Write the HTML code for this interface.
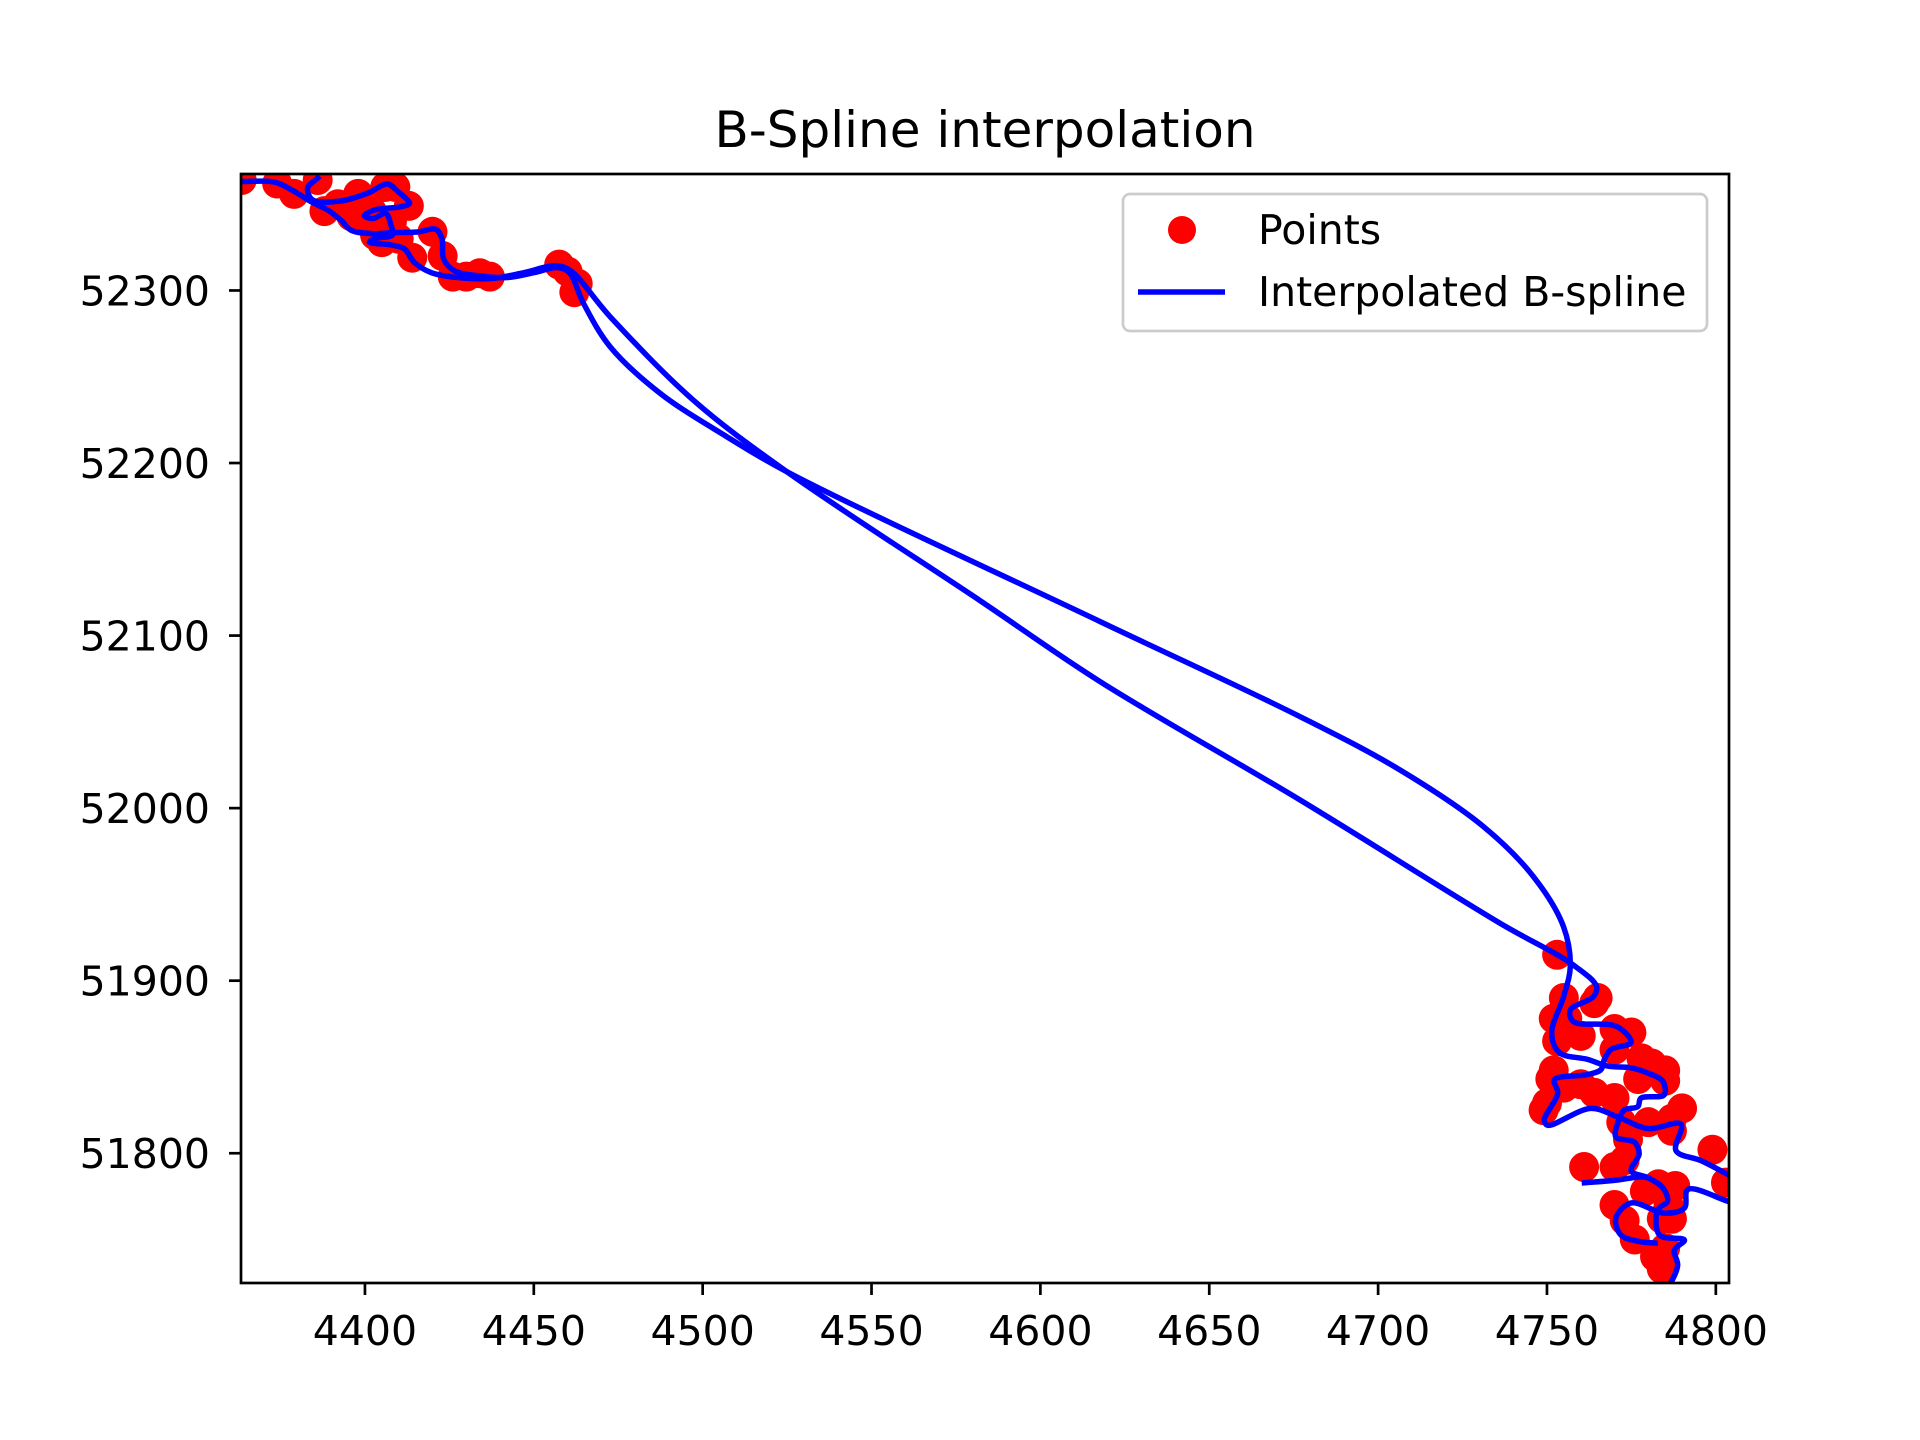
<!DOCTYPE html>
<html><head><meta charset="utf-8"><style>
html,body{margin:0;padding:0;background:#fff;}
svg{display:block;font-family:"DejaVu Sans","Liberation Sans",sans-serif;}
</style></head><body>
<svg id="chart" width="1920" height="1440" viewBox="0 0 1920 1440" xmlns="http://www.w3.org/2000/svg">
<rect width="1920" height="1440" fill="#fff"/>
<defs><clipPath id="clip"><rect x="241" y="174" width="1488" height="1109"/></clipPath></defs>
<text x="985" y="147" font-size="50" text-anchor="middle">B-Spline interpolation</text>
<g id="plot" clip-path="url(#clip)"></g>
<g id="axes"></g>
<g>
<rect x="1123" y="194" width="584" height="137" rx="7" fill="#fff" fill-opacity="0.8" stroke="#ccc" stroke-width="2.7"/>
<circle cx="1182" cy="230" r="14" fill="#ff0000"/>
<text x="1258" y="244" font-size="41">Points</text>
<line x1="1138" y1="292" x2="1225" y2="292" stroke="#0000ff" stroke-width="5.5"/>
<text x="1258" y="306" font-size="41">Interpolated B-spline</text>
</g>
</svg>
<script>
const xTicks = [4400,4450,4500,4550,4600,4650,4700,4750,4800];
const yTicks = [51800,51900,52000,52100,52200,52300];
const curve1X = [4350,4363.3,4373.2,4379.1,4384.0,4389.0,4392.9,4395.9,4402.8,4407.7,4415.6,4421.0,4422.8,4423.3,4426.5,4434.4,4442.3,4450.2,4457.1,4460.5,4464.7,4472.6,4487.4,4507.1,4524.9,4617.7,4676.9,4706.5,4731.2,4746.0,4754.9,4756.9,4754.9,4751.4,4753.7,4762.0,4768.0,4774.9,4779.8,4784.3,4784.7,4777.8,4776.9,4772.9,4770.9,4770.4,4775.9,4777.3,4774.9,4779.8,4784.3,4785.7,4782.8,4783.3,4790.7,4787.7,4788.7,4785.7,4783];
const curve1Y = [52364,52363.2,52362.8,52357.4,52351.5,52346.6,52340.7,52334.9,52332.9,52333.5,52333.9,52335.4,52330.0,52318.2,52311.4,52308.4,52307.5,52310.4,52313.3,52310.4,52292.6,52267.4,52240.4,52215.3,52195.0,52108.1,52053.0,52022.1,51989.3,51960.3,51931.3,51908.1,51890.7,51869.5,51858.3,51854.4,51850.5,51849.5,51846.5,51841.7,51833.8,51831.9,51827.0,51825.0,51817.2,51809.4,51806.4,51799.6,51789.8,51785.9,51780.0,51772.2,51767.3,51752.6,51749.7,51743.8,51735.0,51721.3,51712];
const curve2X = [4386.0,4383.0,4384.5,4392.9,4400.8,4406.7,4409.7,4413.2,4410.7,4402.8,4399.8,4402.3,4406.2,4407.7,4408.2,4402.8,4401.3,4407.7,4411.7,4414.6,4419.6,4427.5,4437.3,4447.2,4456.1,4460.5,4472.6,4497.2,4524.9,4582.1,4617.7,4676.9,4736.1,4757.8,4764.7,4763.7,4756.9,4757.8,4770.7,4774.9,4769.0,4767.0,4766.0,4762.0,4752.2,4753.2,4749.2,4750.2,4763.0,4770.9,4779.8,4789.7,4788.2,4795.6,4803.5,4809.4,4809.4,4803.5,4791.7,4790.7,4784.7,4774.9,4770.4,4771.9,4777.8,4782];
const curve2Y = [52365.2,52359.3,52352.5,52351.9,52356.4,52361.7,52357.4,52350.5,52348.6,52346.6,52343.3,52341.7,52344.6,52337.8,52332.3,52330.0,52328.0,52326.4,52324.1,52316.3,52310.4,52307.5,52306.9,52310.4,52314.3,52312.0,52284.8,52236.5,52195.0,52120.3,52073.3,52004.7,51933.3,51909.1,51896.5,51890.7,51883.0,51876.3,51873.4,51864.2,51860.2,51854.4,51848.5,51845.6,51842.6,51834.8,51819.2,51816.2,51826.0,51821.1,51814.3,51816.8,51801.5,51795.7,51787.8,51782.0,51768.3,51772.2,51779.0,51768.3,51765.3,51771.2,51762.4,51752.6,51748.7,51748];
const curve3X = [4761.1,4769.9,4777.8,4779.8];
const curve3Y = [51782.9,51784.3,51786.3,51785.9];
const pointsX = [4363.5,4374,4379,4386,4388,4392,4396,4400,4403,4406,4409,4413,4408,4402,4398,4405,4410,4414,4420,4423,4426,4430,4434,4437,4457.5,4460,4463,4462,4753,4755,4756,4752,4753,4764,4765,4760,4770,4775,4770,4778,4781,4785,4785,4777,4752,4751,4750,4749,4755,4760,4764,4770,4772,4774,4780,4787,4790,4787,4799,4803,4761,4770,4773,4779,4783,4787,4770,4773,4784,4788,4785,4782,4784,4776,4786];
const pointsY = [52364,52362,52356,52364,52346,52350,52343,52340,52332,52360,52360,52349,52340,52346,52356,52328,52330,52319,52334,52320,52308,52308,52310,52308,52315,52311,52304,52299,51915,51890,51878,51878,51865,51887,51890,51868,51872,51870,51860,51855,51852,51848,51842,51843,51848,51843,51829,51825,51838,51840,51835,51832,51818,51808,51818,51813,51826,51820,51802,51783,51792,51792,51796,51778,51782,51762,51770,51761,51762,51781,51745,51740,51733,51750,51770];

const L=241,R=1729,T=174,B=1283, XMIN=4363.3, XMAX=4803.9, YMIN=51724.8, YMAX=52367.5;
function sx(v){return L+(v-XMIN)/(XMAX-XMIN)*(R-L);}
function sy(v){return B-(v-YMIN)/(YMAX-YMIN)*(B-T);}
const NS='http://www.w3.org/2000/svg';
const plot=document.getElementById('plot'), axes=document.getElementById('axes');
function el(tag,attrs,parent){const e=document.createElementNS(NS,tag);for(const k in attrs)e.setAttribute(k,attrs[k]);parent.appendChild(e);return e;}

for(let i=0;i<pointsX.length;i++){
  const c=el('circle',{cx:sx(pointsX[i]),cy:sy(pointsY[i]),r:15,fill:'#ff0000'},plot);
  
  
}
function dist(a,b){return Math.hypot(a[0]-b[0],a[1]-b[1]);}
function smooth(xs,ys){
  const p=xs.map((x,i)=>[sx(x),sy(ys[i])]);
  let d='M'+p[0][0]+','+p[0][1];
  for(let i=0;i<p.length-1;i++){
    const p1=p[i],p2=p[i+1];
    const p0=i>0?p[i-1]:null, p3=i+2<p.length?p[i+2]:null;
    const d2=Math.sqrt(dist(p1,p2))||1e-6;
    let b1,b2;
    if(p0){
      const d1=Math.sqrt(dist(p0,p1))||1e-6;
      const den=3*d1*(d1+d2);
      b1=[0,1].map(k=>(d1*d1*p2[k]-d2*d2*p0[k]+(2*d1*d1+3*d1*d2+d2*d2)*p1[k])/den);
    } else b1=[p1[0]+(p2[0]-p1[0])/3,p1[1]+(p2[1]-p1[1])/3];
    if(p3){
      const d3=Math.sqrt(dist(p2,p3))||1e-6;
      const den=3*d3*(d3+d2);
      b2=[0,1].map(k=>(d3*d3*p1[k]-d2*d2*p3[k]+(2*d3*d3+3*d3*d2+d2*d2)*p2[k])/den);
    } else b2=[p2[0]-(p2[0]-p1[0])/3,p2[1]-(p2[1]-p1[1])/3];
    d+=' C'+b1[0]+','+b1[1]+' '+b2[0]+','+b2[1]+' '+p2[0]+','+p2[1];
  }
  return d;
}
[[curve1X,curve1Y],[curve2X,curve2Y],[curve3X,curve3Y]].forEach(([xs,ys])=>{
  const pth=el('path',{d:smooth(xs,ys),fill:'none',stroke:'#0000ff','stroke-width':5.5,'stroke-linejoin':'round','stroke-linecap':'square'},plot);
  
  
});

const frame=el('rect',{x:L,y:T,width:R-L,height:B-T,fill:'none',stroke:'#000','stroke-width':2.7},axes);


xTicks.forEach(v=>{
  const x=sx(v);
  const t=el('line',{x1:x,y1:B,x2:x,y2:B+12,stroke:'#000','stroke-width':2.7},axes);
  
  
  const lb=el('text',{x:x,y:B+62,'font-size':41,'text-anchor':'middle'},axes);
  lb.textContent=v;
  
  
});
yTicks.forEach(v=>{
  const y=sy(v);
  const t=el('line',{x1:L,y1:y,x2:L-12,y2:y,stroke:'#000','stroke-width':2.7},axes);
  
  
  const lb=el('text',{x:L-31,y:y+15,'font-size':41,'text-anchor':'end'},axes);
  lb.textContent=v;
  
  
});
</script>
</body></html>
